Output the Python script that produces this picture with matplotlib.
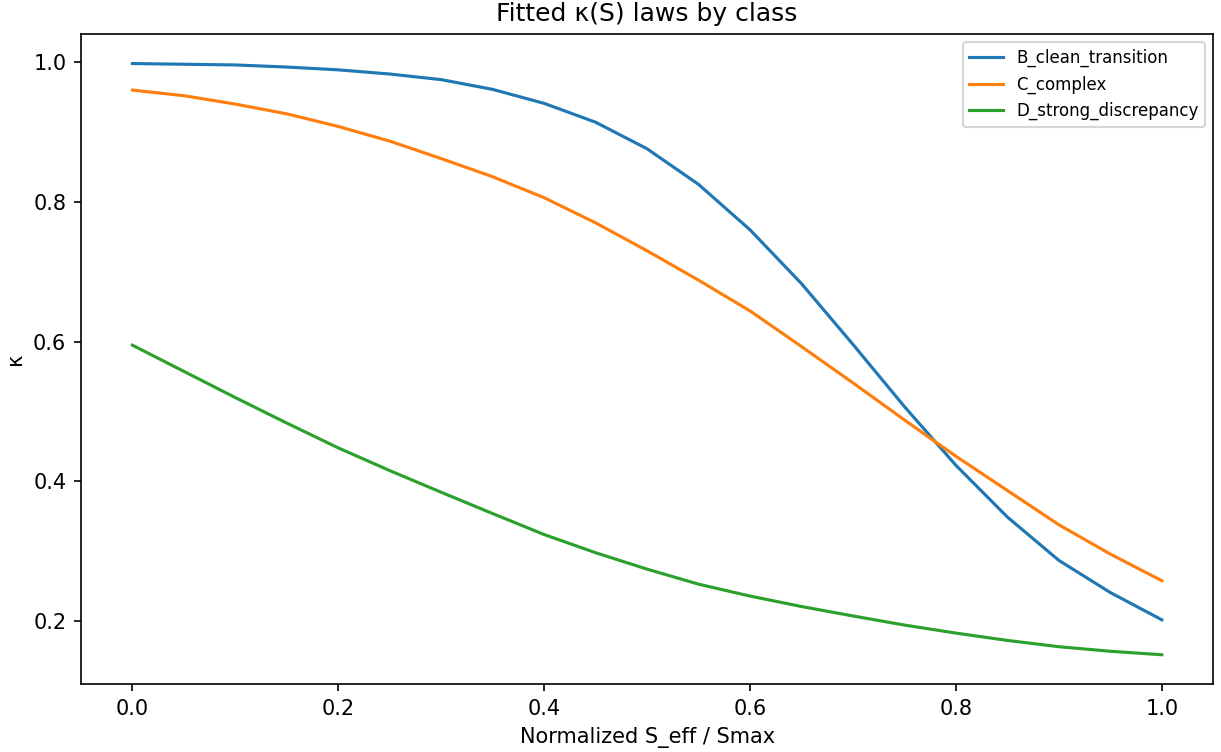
import matplotlib
matplotlib.use('Agg')
import matplotlib.pyplot as plt


# normalized S_eff / Smax grid
s_norm = [0.00, 0.05, 0.10, 0.15, 0.20, 0.25, 0.30, 0.35, 0.40, 0.45, 0.50,
          0.55, 0.60, 0.65, 0.70, 0.75, 0.80, 0.85, 0.90, 0.95, 1.00]

kappa_b = [0.998, 0.997, 0.996, 0.993, 0.989, 0.983, 0.975, 0.961, 0.941, 0.914, 0.876,
           0.825, 0.760, 0.683, 0.596, 0.507, 0.423, 0.349, 0.287, 0.241, 0.202]
kappa_c = [0.960, 0.952, 0.940, 0.926, 0.908, 0.887, 0.862, 0.836, 0.806, 0.770, 0.730,
           0.688, 0.644, 0.593, 0.541, 0.488, 0.436, 0.387, 0.338, 0.296, 0.258]
kappa_d = [0.595, 0.5575, 0.520, 0.4835, 0.448, 0.4155, 0.3845, 0.354, 0.324, 0.298, 0.2745,
           0.253, 0.236, 0.221, 0.2075, 0.1945, 0.183, 0.1725, 0.1635, 0.157, 0.152]

labels = ['B_clean_transition', 'C_complex', 'D_strong_discrepancy']


def main():
    fig, ax = plt.subplots(figsize=(1221 / 150, 752 / 150), dpi=150)
    fig.subplots_adjust(left=0.0663, right=0.9937, top=0.9548, bottom=0.0900)
    for k, lab in zip([kappa_b, kappa_c, kappa_d], labels):
        ax.plot(s_norm, k, label=lab)
    ax.set_title('Fitted κ(S) laws by class')
    ax.set_xlabel('Normalized S_eff / Smax')
    ax.set_ylabel('κ')
    ax.legend(fontsize=8)
    fig.savefig('out.png', dpi=150)


if __name__ == "__main__":
    main()
